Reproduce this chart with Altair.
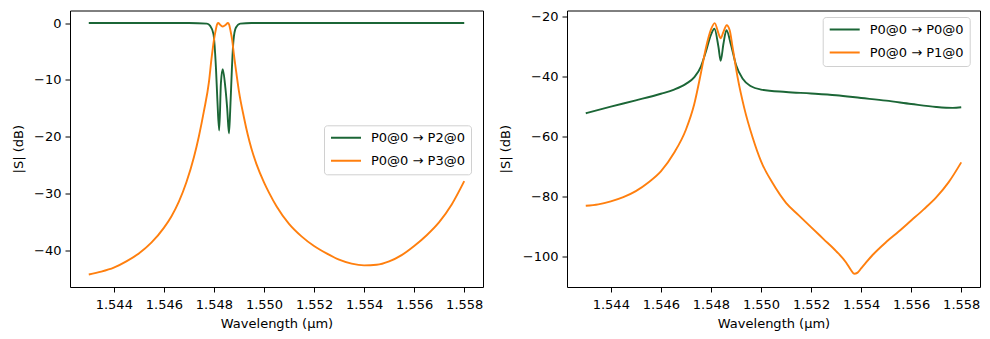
import altair as alt
import pandas as pd

GREEN = "#1b6636"
ORANGE = "#ff7f0e"
FONT = "DejaVu Sans"
FS = 13

# ---- Left panel: transmission ----
wl_p2 = [1.5430, 1.5450, 1.5470, 1.54772, 1.54785, 1.54798, 1.54808, 1.54814, 1.54821,
         1.54828, 1.54835, 1.54846, 1.54853, 1.54860, 1.54865, 1.54872, 1.54878, 1.54888,
         1.54905, 1.5495, 1.5500, 1.5520, 1.5540, 1.5560, 1.5580]
db_p2 = [0.0, 0.0, 0.0, -0.1, -0.5, -1.9, -7.8, -13.7, -18.9,
         -10.5, -8.1, -11.5, -15.0, -19.4, -15.4, -7.8, -3.1, -0.8,
         -0.1, 0.0, 0.0, 0.0, 0.0, 0.0, 0.0]

wl_p3 = [1.5430, 1.5435, 1.5440, 1.5445, 1.5450, 1.5455, 1.5460, 1.5463, 1.5466, 1.5469,
         1.5472, 1.5474, 1.5476, 1.5478, 1.5479, 1.5480, 1.54807, 1.54812, 1.54817, 1.54826,
         1.54836, 1.54846, 1.54856, 1.54861, 1.54866, 1.54873, 1.5488, 1.5489, 1.5490, 1.5492,
         1.54935, 1.5495, 1.5497, 1.5500, 1.5502, 1.5505, 1.5510, 1.5515, 1.5520, 1.5525,
         1.5530, 1.5535, 1.5540, 1.5545, 1.5550, 1.5555, 1.5560, 1.5565, 1.5570, 1.5575,
         1.5580]
db_p3 = [-44.2, -43.7, -43.0, -41.9, -40.5, -38.6, -36.0, -34.0, -31.4, -28.0,
         -23.6, -19.9, -15.5, -10.4, -6.4, -3.0, -1.3, -0.3, 0.0, -0.35,
         -0.6, -0.35, 0.0, -0.3, -1.3, -3.0, -5.6, -8.9, -12.0, -16.6,
         -19.6, -22.1, -24.8, -28.0, -29.8, -32.2, -35.3, -37.5, -39.2, -40.5,
         -41.6, -42.3, -42.6, -42.5, -41.9, -40.8, -39.2, -37.3, -35.0, -31.9,
         -27.8]

# ---- Right panel: reflection / crosstalk ----
wl_p0 = [1.5430, 1.5440, 1.5450, 1.5460, 1.54653, 1.5470, 1.54733, 1.5476, 1.5478, 1.5480,
         1.54814, 1.5483, 1.54839, 1.5485, 1.54862, 1.5488, 1.5490, 1.54927, 1.5496, 1.5500,
         1.5510, 1.5520, 1.5530, 1.5540, 1.5550, 1.5560, 1.5570, 1.55766, 1.5580]
db_p0 = [-52.2, -50.0, -47.9, -45.7, -44.3, -42.4, -40.2, -36.6, -31.6, -26.0,
         -24.0, -30.0, -34.7, -29.0, -24.5, -29.3, -36.0, -40.7, -43.2, -44.3,
         -45.1, -45.6, -46.2, -47.1, -48.0, -49.1, -50.1, -50.4, -50.2]

wl_p1 = [1.5430, 1.5435, 1.5440, 1.5445, 1.5450, 1.5455, 1.5460, 1.54653, 1.5470, 1.54733,
         1.5476, 1.5478, 1.5480, 1.54815, 1.5483, 1.54839, 1.5485, 1.54863, 1.54875, 1.54887,
         1.54907, 1.54933, 1.54967, 1.5500, 1.55047, 1.5510, 1.5515, 1.5520, 1.5525, 1.5530,
         1.5534, 1.5536, 1.55372, 1.55386, 1.5540, 1.5542, 1.55445, 1.5550, 1.5555, 1.5560,
         1.5565, 1.5570, 1.5575, 1.5580]
db_p1 = [-83.1, -82.6, -81.6, -80.2, -78.2, -75.3, -71.6, -65.4, -57.7, -49.3,
         -38.8, -30.4, -24.3, -22.1, -25.5, -27.2, -25.0, -22.8, -24.5, -30.4,
         -40.4, -50.4, -60.4, -68.2, -75.6, -82.1, -86.2, -90.2, -94.2, -98.2,
         -102.0, -104.6, -105.8, -105.4, -104.0, -102.0, -99.6, -95.2, -91.7, -88.0,
         -84.3, -80.3, -75.2, -68.6]

LBL_L = ["P0@0 → P2@0", "P0@0 → P3@0"]
LBL_R = ["P0@0 → P0@0", "P0@0 → P1@0"]
X_TICKS = [1.544, 1.546, 1.548, 1.550, 1.552, 1.554, 1.556, 1.558]
Y_TICKS_L = [-40, -30, -20, -10, 0]
Y_TICKS_R = [-100, -80, -60, -40, -20]

W, H = 413, 276.5


def frame(series):
    parts = []
    for name, wl, db in series:
        parts.append(pd.DataFrame({"wl": wl, "db": db, "series": name}))
    return pd.concat(parts, ignore_index=True)


def panel(df, labels, ydom, yticks, title_x, leg_x, leg_y):
    minus = "replace(format(datum.value, 'd'), '-', '\u2212')"
    x = alt.X("wl:Q",
              scale=alt.Scale(domain=[1.54225, 1.55875], nice=False, zero=False),
              axis=alt.Axis(values=X_TICKS, format=".3f", title="Wavelength (µm)",
                            domain=False, grid=False, tickSize=5, tickColor="black",
                            tickWidth=1, labelPadding=6, labelFontSize=FS,
                            labelColor="black", labelFont=FONT, titleFont=FONT,
                            titleFontSize=FS, titleFontWeight="normal",
                            titleColor="black", titleBaseline="alphabetic",
                            titleY=40, titleX=W / 2, labelFlush=False))
    y = alt.Y("db:Q",
              scale=alt.Scale(domain=ydom, nice=False, zero=False),
              axis=alt.Axis(values=yticks, labelExpr=minus, title="|S| (dB)",
                            domain=False, grid=False, tickSize=5, tickColor="black",
                            tickWidth=1, labelPadding=4, labelFontSize=FS,
                            labelColor="black", labelFont=FONT, titleFont=FONT,
                            titleFontSize=FS, titleFontWeight="normal",
                            titleColor="black", titleAngle=270,
                            titleBaseline="middle", titleX=title_x, titleY=H / 2,
                            labelFlush=False))
    color = alt.Color("series:N",
                      scale=alt.Scale(domain=labels, range=[GREEN, ORANGE]),
                      legend=alt.Legend(title=None, orient="none", legendX=leg_x,
                                        legendY=leg_y, symbolType="stroke",
                                        symbolSize=900, symbolStrokeWidth=1.9,
                                        labelFont=FONT, labelFontSize=FS,
                                        labelColor="black", fillColor="rgba(255,255,255,0.8)",
                                        strokeColor="#d0d0d0", cornerRadius=3,
                                        padding=6, rowPadding=9, labelOffset=9,
                                        clipHeight=13))
    return alt.Chart(df).mark_line(strokeWidth=1.9, interpolate="monotone", clip=True).encode(
        x=x, y=y, color=color, order=alt.Order("wl:Q"), detail="series:N"
    ).properties(width=W, height=H)


left = panel(frame([(LBL_L[0], wl_p2, db_p2), (LBL_L[1], wl_p3, db_p3)]),
             LBL_L, [-46.4, 2.2], Y_TICKS_L, -52, 254, 114.8)
right = panel(frame([(LBL_R[0], wl_p0, db_p0), (LBL_R[1], wl_p1, db_p1)]),
              LBL_R, [-110.2, -17.9], Y_TICKS_R, -62, 255.7, 6.5)

chart = alt.hconcat(left, right, spacing=84, bounds="flush").resolve_scale(
    color="independent", y="independent"
).resolve_legend(color="independent").properties(
    padding={"left": 11, "top": 9.5, "right": 0, "bottom": 0}, background="white"
).configure(font=FONT).configure_view(stroke="black", strokeWidth=1)

chart.save("out.html", embed_options={"renderer": "svg", "actions": False})
